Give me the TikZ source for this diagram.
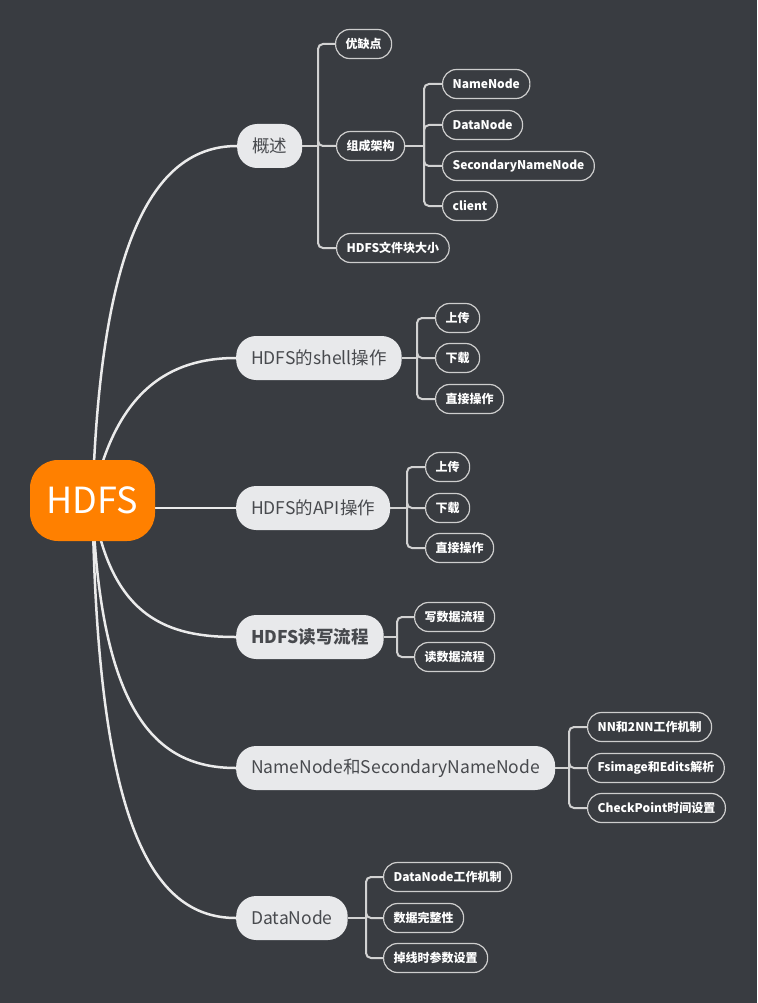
\documentclass[tikz,border=0pt]{standalone}
\usepackage{fontspec}
\setmainfont{Noto Sans CJK SC}
\usetikzlibrary{backgrounds}
\definecolor{bgC}{RGB}{57,60,65}
\definecolor{orangeC}{RGB}{255,128,0}
\definecolor{topicF}{RGB}{232,233,235}
\definecolor{topicT}{RGB}{72,74,78}
\definecolor{leafB}{RGB}{205,205,205}
\definecolor{lineM}{RGB}{235,235,235}
\definecolor{lineS}{RGB}{210,210,210}
\begin{document}
\begin{tikzpicture}[x=1pt,y=-1pt,
  rootbox/.style={fill=orangeC, rounded corners=28pt, minimum width=125pt, minimum height=81pt, text=white, font=\fontsize{36}{40}\selectfont},
  topic/.style={fill=topicF, rounded corners=20pt, minimum height=44pt, inner xsep=15pt, text=topicT, font=\fontsize{17.5}{20}\selectfont, anchor=west},
  leaf/.style={draw=leafB, line width=1.2pt, rounded corners=14pt, minimum height=29pt, inner xsep=10pt, text=white, font=\bfseries\fontsize{12}{14}\selectfont, anchor=west},
  mainline/.style={draw=lineM, line width=2.5pt},
  subline/.style={draw=lineS, line width=2pt, rounded corners=5pt}]
\node[rootbox] (hdfs) at (92.5,500.5) {HDFS};
\node[topic] (gs) at (237,146) {概述};
\node[topic] (shell) at (236,358) {HDFS的shell操作};
\node[topic] (api) at (236,508) {HDFS的API操作};
\node[topic,font=\bfseries\fontsize{17.5}{20}\selectfont] (rw) at (236,637) {HDFS读写流程};
\node[topic] (nn) at (236,768) {NameNode和SecondaryNameNode};
\node[topic] (dn) at (236,918) {DataNode};
% leaves
\node[leaf] (yqd) at (335,44) {优缺点};
\node[leaf] (zcjg) at (336,146) {组成架构};
\node[leaf] (kdx) at (336,248) {HDFS文件块大小};
\node[leaf] (nnl) at (442,84) {NameNode};
\node[leaf] (dnl) at (442,125) {DataNode};
\node[leaf] (snn) at (442,166) {SecondaryNameNode};
\node[leaf] (cl) at (442,206) {client};
\node[leaf] (sh1) at (435,318) {上传};
\node[leaf] (sh2) at (435,358) {下载};
\node[leaf] (sh3) at (435,399) {直接操作};
\node[leaf] (ap1) at (425,467) {上传};
\node[leaf] (ap2) at (425,508) {下载};
\node[leaf] (ap3) at (425,548) {直接操作};
\node[leaf] (rw1) at (414,617) {写数据流程};
\node[leaf] (rw2) at (414,657) {读数据流程};
\node[leaf] (nn1) at (587,727) {NN和2NN工作机制};
\node[leaf] (nn2) at (587,768) {Fsimage和Edits解析};
\node[leaf] (nn3) at (587,808) {CheckPoint时间设置};
\node[leaf] (dn1) at (383,877) {DataNode工作机制};
\node[leaf] (dn2) at (383,918) {数据完整性};
\node[leaf] (dn3) at (383,958) {掉线时参数设置};
% trunks
\coordinate (t1) at (318,146);
\coordinate (t2) at (424,146);
\coordinate (t3) at (417,358);
\coordinate (t4) at (407,508);
\coordinate (t5) at (397,637);
\coordinate (t6) at (569,768);
\coordinate (t7) at (366,918);
\begin{scope}[on background layer]
\fill[bgC] (0,0) rectangle (757,1003);
\draw[mainline] (hdfs.center) .. controls (100,250) and (150,146) .. (gs.west);
\draw[mainline] (hdfs.center) .. controls (115,390) and (170,358) .. (shell.west);
\draw[mainline] (hdfs.center |- api.west) -- (api.west);
\draw[mainline] (hdfs.center) .. controls (110,620) and (170,637) .. (rw.west);
\draw[mainline] (hdfs.center) .. controls (100,720) and (160,768) .. (nn.west);
\draw[mainline] (hdfs.center) .. controls (97,820) and (150,918) .. (dn.west);
% sub connectors
\draw[subline] (gs.east) -- (t1);
\foreach \c in {yqd,zcjg,kdx} \draw[subline] (t1) |- (\c.west);
\draw[subline] (zcjg.east) -- (t2);
\foreach \c in {nnl,dnl,snn,cl} \draw[subline] (t2) |- (\c.west);
\draw[subline] (shell.east) -- (t3);
\foreach \c in {sh1,sh2,sh3} \draw[subline] (t3) |- (\c.west);
\draw[subline] (api.east) -- (t4);
\foreach \c in {ap1,ap2,ap3} \draw[subline] (t4) |- (\c.west);
\draw[subline] (rw.east) -- (t5);
\foreach \c in {rw1,rw2} \draw[subline] (t5) |- (\c.west);
\draw[subline] (nn.east) -- (t6);
\foreach \c in {nn1,nn2,nn3} \draw[subline] (t6) |- (\c.west);
\draw[subline] (dn.east) -- (t7);
\foreach \c in {dn1,dn2,dn3} \draw[subline] (t7) |- (\c.west);
\end{scope}
\useasboundingbox (0,0) rectangle (757,1003);
\end{tikzpicture}
\end{document}
